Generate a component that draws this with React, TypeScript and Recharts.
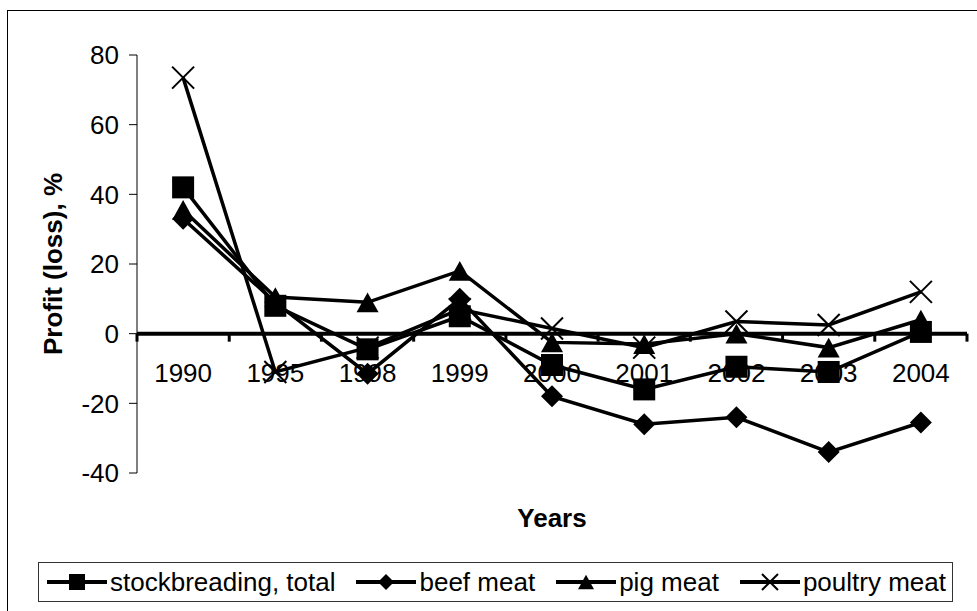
import React from 'react';
import { LineChart, Line, XAxis, YAxis, ReferenceLine, Label } from 'recharts';

// ---- data ----
const years = ['1990', '1995', '1998', '1999', '2000', '2001', '2002', '2003', '2004'];
const stockbreeding = [42, 8, -4.5, 5, -9, -16, -9.5, -11, 0.5];
const beefMeat = [33, 9, -11.5, 10, -18, -26, -24, -34, -25.5];
const pigMeat = [35.5, 10.5, 9, 18, -2.5, -3, 0, -4, 4];
const poultryMeat = [73.5, -11, -4, 7, 1.5, -4, 3.5, 2.5, 12];
const yTicks = [-40, -20, 0, 20, 40, 60, 80];
const seriesNames = ['stockbreading, total', 'beef meat', 'pig meat', 'poultry meat'];

const data = years.map((y, i) => ({
  year: y,
  stock: stockbreeding[i],
  beef: beefMeat[i],
  pig: pigMeat[i],
  poultry: poultryMeat[i],
}));

// ---- layout ----
const W = 977;
const H = 611;
const PLOT_LEFT = 137;
const PLOT_RIGHT = 967;
const PLOT_TOP = 55;
const PLOT_BOTTOM = 473;
const Y_AXIS_W = 60;
const X_AXIS_H = 30;
const Y_MIN = -40;
const Y_MAX = 80;
const FONT = '"Liberation Sans", Arial, Helvetica, sans-serif';
const FS = 26;

const PLOT_W = PLOT_RIGHT - PLOT_LEFT;
const PLOT_H = PLOT_BOTTOM - PLOT_TOP;
const ZERO_Y = PLOT_TOP + ((Y_MAX - 0) / (Y_MAX - Y_MIN)) * PLOT_H;
const BAND = PLOT_W / years.length;

type MarkerKind = 'square' | 'diamond' | 'triangle' | 'cross';

function Marker({ kind, cx, cy, s }: { kind: MarkerKind; cx: number; cy: number; s: number }) {
  const h = s / 2;
  if (kind === 'square') {
    return <rect x={cx - h} y={cy - h} width={s} height={s} fill="#000" />;
  }
  if (kind === 'diamond') {
    return (
      <polygon
        points={`${cx},${cy - h} ${cx + h},${cy} ${cx},${cy + h} ${cx - h},${cy}`}
        fill="#000"
      />
    );
  }
  if (kind === 'triangle') {
    const th = s * 0.9;
    return (
      <polygon
        points={`${cx},${cy - th / 2} ${cx + h},${cy + th / 2} ${cx - h},${cy + th / 2}`}
        fill="#000"
      />
    );
  }
  return (
    <g stroke="#000" strokeWidth={2}>
      <line x1={cx - h} y1={cy - h} x2={cx + h} y2={cy + h} />
      <line x1={cx - h} y1={cy + h} x2={cx + h} y2={cy - h} />
    </g>
  );
}

const makeDot = (kind: MarkerKind) => (p: any) => {
  if (p.cx == null || p.cy == null) return <g key={`${kind}-${p.index}`} />;
  return (
    <g key={`${kind}-${p.index}`}>
      <Marker kind={kind} cx={p.cx} cy={p.cy} s={22} />
    </g>
  );
};

const XTick = (props: any) => {
  const { x, payload, index } = props;
  const last = index === years.length - 1;
  return (
    <g>
      <line x1={x - BAND / 2} y1={ZERO_Y} x2={x - BAND / 2} y2={ZERO_Y + 8} stroke="#000" strokeWidth={3} />
      {last && (
        <line x1={x + BAND / 2} y1={ZERO_Y} x2={x + BAND / 2} y2={ZERO_Y + 8} stroke="#000" strokeWidth={3} />
      )}
      <text
        x={x}
        y={ZERO_Y + 48}
        textAnchor="middle"
        fontSize={FS}
        fontFamily={FONT}
        fill="#000"
      >
        {payload.value}
      </text>
    </g>
  );
};

const series: { key: string; kind: MarkerKind }[] = [
  { key: 'stock', kind: 'square' },
  { key: 'beef', kind: 'diamond' },
  { key: 'pig', kind: 'triangle' },
  { key: 'poultry', kind: 'cross' },
];

function LegendBox() {
  return (
    <div
      style={{
        position: 'absolute',
        left: 38,
        top: 562,
        width: 915,
        height: 40,
        boxSizing: 'border-box',
        border: '1px solid #333',
        background: '#fff',
        display: 'flex',
        alignItems: 'center',
        justifyContent: 'space-between',
        padding: '0 6px 0 8px',
        fontFamily: FONT,
        fontSize: FS,
        color: '#000',
        whiteSpace: 'nowrap',
      }}
    >
      {series.map((s, i) => (
        <div key={s.key} style={{ display: 'flex', alignItems: 'center' }}>
          <svg width={60} height={24} style={{ display: 'block' }}>
            <line x1={0} y1={12} x2={60} y2={12} stroke="#000" strokeWidth={4} />
            <Marker kind={s.kind} cx={30} cy={12} s={16} />
          </svg>
          <span style={{ marginLeft: 3, lineHeight: '30px' }}>{seriesNames[i]}</span>
        </div>
      ))}
    </div>
  );
}

export default function App() {
  return (
    <div style={{ position: 'absolute', left: 0, top: 0, width: W, height: H, background: '#fff', overflow: 'hidden' }}>
      <div
        style={{
          position: 'absolute',
          left: 7,
          top: 10,
          width: W,
          height: H,
          borderTop: '1px solid #000',
          borderLeft: '1px solid #000',
        }}
      />
      <div style={{ position: 'absolute', left: 0, top: 0 }}>
        <LineChart
          width={W}
          height={H}
          data={data}
          margin={{
            top: PLOT_TOP,
            right: W - PLOT_RIGHT,
            bottom: H - PLOT_BOTTOM - X_AXIS_H,
            left: PLOT_LEFT - Y_AXIS_W,
          }}
        >
          <XAxis
            dataKey="year"
            height={X_AXIS_H}
            axisLine={false}
            tickLine={false}
            interval={0}
            padding={{ left: BAND / 2, right: BAND / 2 }}
            tick={<XTick />}
          >
            <Label
              content={() => (
                <text
                  x={(PLOT_LEFT + PLOT_RIGHT) / 2}
                  y={527}
                  textAnchor="middle"
                  fontSize={FS}
                  fontWeight="bold"
                  fontFamily={FONT}
                  fill="#000"
                >
                  Years
                </text>
              )}
            />
          </XAxis>
          <YAxis
            width={Y_AXIS_W}
            domain={[Y_MIN, Y_MAX]}
            ticks={yTicks}
            interval={0}
            allowDataOverflow
            axisLine={{ stroke: '#000', strokeWidth: 1 }}
            tickLine={{ stroke: '#000', strokeWidth: 1 }}
            tickSize={8}
            tickMargin={10}
            tick={{ fontSize: FS, fill: '#000', fontFamily: FONT }}
          >
            <Label
              content={() => (
                <text
                  x={0}
                  y={0}
                  transform={`translate(62, ${(PLOT_TOP + PLOT_BOTTOM) / 2}) rotate(-90)`}
                  textAnchor="middle"
                  fontSize={FS}
                  fontWeight="bold"
                  fontFamily={FONT}
                  fill="#000"
                >
                  Profit (loss), %
                </text>
              )}
            />
          </YAxis>
          <ReferenceLine y={0} stroke="#000" strokeWidth={4} />
          {series.map((s) => (
            <Line
              key={s.key}
              type="linear"
              dataKey={s.key}
              stroke="#000"
              strokeWidth={3.5}
              dot={makeDot(s.kind)}
              activeDot={false}
              isAnimationActive={false}
            />
          ))}
        </LineChart>
      </div>
      <LegendBox />
    </div>
  );
}
